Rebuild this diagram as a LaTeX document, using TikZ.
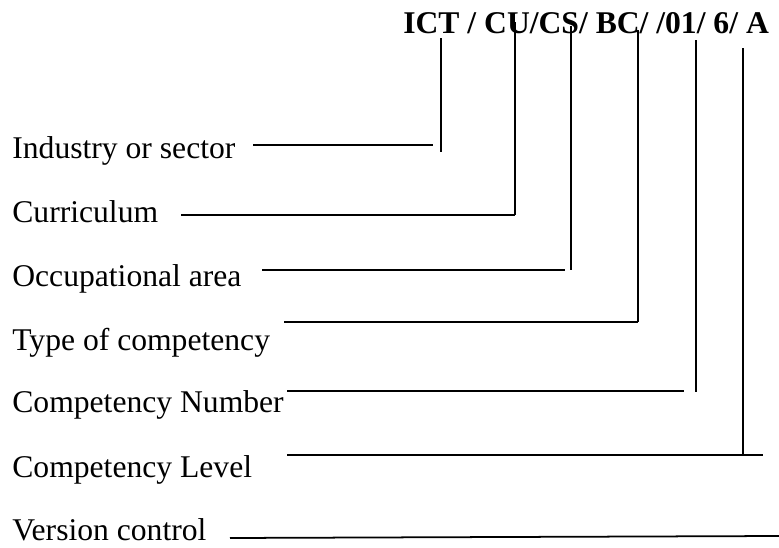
\documentclass[tikz,border=0pt]{standalone}
\usepackage{fontspec}
\setmainfont{Liberation Serif}
\usepackage{tikz}
\tikzset{lbl/.style={anchor=base west,inner sep=0pt,font=\fontsize{18}{20}\selectfont},
	lead/.style={line width=1pt,black}}

\begin{document}
\begin{tikzpicture}[x=0.02cm,y=-0.02cm]
	\useasboundingbox (0,0) rectangle (779,548);
	\node[lbl,font=\fontsize{18}{20}\selectfont\bfseries] (code) at (403,33) {ICT / CU/CS/ BC/ /01/ 6/ A};	%the code
	
	\node[lbl] (ind) at (12,158) {Industry or sector};
	\node[lbl] (cur) at (12,222) {Curriculum};
	\node[lbl] (occ) at (12,286) {Occupational area};
	\node[lbl] (typ) at (12,350) {Type of competency};
	\node[lbl] (num) at (12,412) {Competency Number};
	\node[lbl] (lev) at (12,477) {Competency Level};
	\node[lbl] (ver) at (12,540) {Version control};
	
	% tops of the drops below the code
	\coordinate (t1) at (441,38);
	\coordinate (t2) at (515,22);
	\coordinate (t3) at (571,26);
	\coordinate (t4) at (638,30);
	\coordinate (t5) at (696,40);
	\coordinate (t6) at (743,48);
	% bottoms
	\coordinate (b1) at (441,152);
	\coordinate (b2) at (515,215);
	\coordinate (b3) at (571,270);
	\coordinate (b4) at (638,322);
	\coordinate (b5) at (696,392);
	\coordinate (b6) at (743,456);
	% leaders
	\coordinate (h1) at (253,145);	\coordinate (e1) at (433,145);
	\coordinate (h2) at (181,215);
	\coordinate (h3) at (262,270);	\coordinate (e3) at (565,270);
	\coordinate (h4) at (284,322);
	\coordinate (h5) at (287,391);	\coordinate (e5) at (684,391);
	\coordinate (h6) at (287,455);	\coordinate (e6) at (763,455);
	\coordinate (h7) at (230,538);	\coordinate (e7) at (779,536);
	
	\draw[lead] (t1)--(b1);
	\draw[lead] (t2)--(b2);
	\draw[lead] (t3)--(b3);
	\draw[lead] (t4)--(b4);
	\draw[lead] (t5)--(b5);
	\draw[lead] (t6)--(b6);
	
	\draw[lead] (h1)--(e1);
	\draw[lead] (h2)--(b2);
	\draw[lead] (h3)--(e3);
	\draw[lead] (h4)--(b4);
	\draw[lead] (h5)--(e5);
	\draw[lead] (h6)--(e6);
	\draw[lead] (h7)--(e7);	%version control, no drop
\end{tikzpicture}
\end{document}
